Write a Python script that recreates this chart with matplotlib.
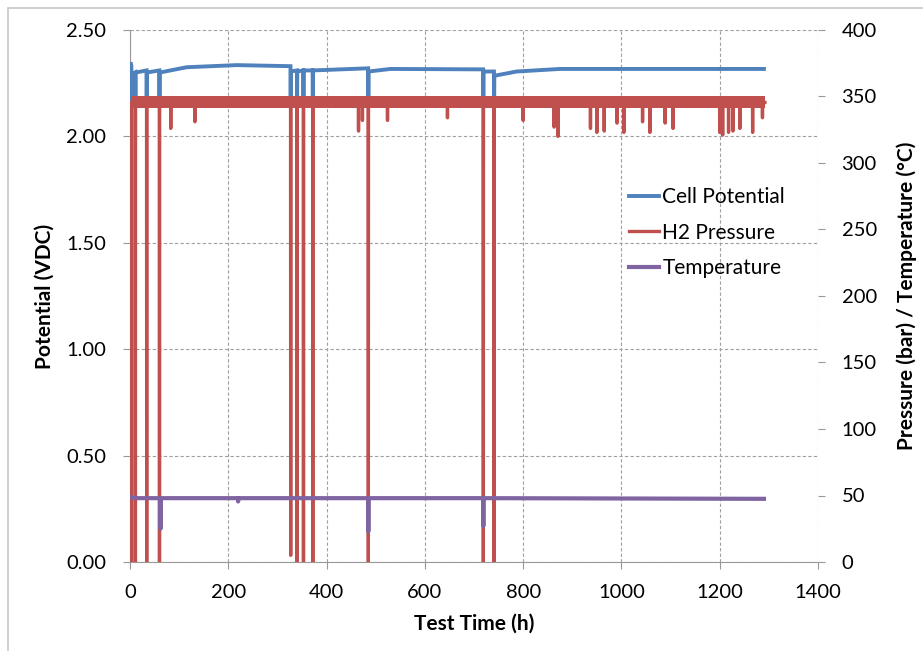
import matplotlib
matplotlib.use("Agg")
import matplotlib.pyplot as plt
from matplotlib.patches import Rectangle
import numpy as np

plt.rcParams['font.family'] = ['Lato', 'DejaVu Sans']

# ---------------- data ----------------
# Cell potential (V), left axis
cell_t = [2, 2.8, 3.0, 3.4, 10.6, 11, 11.4, 33.6, 34, 34.4, 59.6, 60, 60.4,
          115, 217, 326.6, 327, 327.4, 339.6, 340, 340.4, 352.6, 353, 353.4,
          371.6, 372, 372.4, 484.6, 485, 485.4, 530, 718.6, 719, 719.4,
          740.6, 741, 741.4, 787, 875, 1290]
cell_v = [2.34, 2.33, 2.15, 2.29, 2.30, 2.15, 2.30, 2.31, 2.15, 2.30, 2.31, 2.15, 2.30,
          2.325, 2.335, 2.33, 2.15, 2.305, 2.31, 2.15, 2.305, 2.31, 2.15, 2.31,
          2.31, 2.15, 2.31, 2.32, 2.15, 2.305, 2.317, 2.315, 2.15, 2.305,
          2.305, 2.15, 2.285, 2.305, 2.317, 2.317]

# H2 pressure (bar), right axis
press_start, press_end = 2, 1292
press_level = 345.5
press_band_lo, press_band_hi = 341, 350
shutdown_t = [3, 11, 34, 60, 327, 340, 353, 372, 485, 719, 741]
shutdown_p = [0, 0, 0, 0, 5, 0, 0, 0, 0, 0, 0]
spike_t = [83, 132, 465, 473, 524, 646, 800, 863, 871, 937, 950, 965, 991,
           1005, 1043, 1058, 1089, 1105, 1200, 1206, 1218, 1227, 1241, 1267, 1287]
spike_p = [326, 331, 324, 332, 332, 334, 332, 327, 320, 326, 323, 324, 330,
           323, 331, 323, 330, 326, 323, 321, 323, 324, 326, 323, 334]

# Temperature (deg C), right axis
temp_t = [2, 10, 61.6, 62, 62.4, 200, 219.6, 220, 220.4, 484.6, 485, 485.4,
          718.6, 719, 719.4, 1290]
temp_v = [49, 48, 48, 25, 48, 48, 48, 45.5, 48, 48, 23, 48,
          48, 27, 48, 47.5]

# ---------------- figure ----------------
W, H = 923, 651
fig = plt.figure(figsize=(W / 100, H / 100), dpi=100)
fig.patches.append(Rectangle((8 / W, -0.1), 1.2, (H - 8) / H + 0.1,
                             transform=fig.transFigure, fill=False,
                             edgecolor='#c8c8c8', linewidth=1.2))

L, R, T, B = 130, 818, 30, 562
ax = fig.add_axes([L / W, 1 - B / H, (R - L) / W, (B - T) / H])
ax2 = ax.twinx()

blue, red, purple = '#4F81BD', '#C0504D', '#8064A2'

h1, = ax.plot(cell_t, cell_v, color=blue, lw=2.8, solid_joinstyle='miter',
              label='Cell Potential', zorder=3)

# pressure line built from the level, shutdowns and spikes
dips = sorted(zip(shutdown_t + spike_t, shutdown_p + spike_p))
pt, pv = [press_start], [press_level]
for t, p in dips:
    pt += [t - 0.3, t, t + 0.3]
    pv += [press_level, p, press_level]
pt.append(press_end)
pv.append(press_level)

ax2.fill_between([press_start, press_end], [press_band_lo] * 2, [press_band_hi] * 2,
                 color=red, lw=0, zorder=2)
h2, = ax2.plot(pt, pv, color=red, lw=2.4, label='H2 Pressure', zorder=3)
h3, = ax2.plot(temp_t, temp_v, color=purple, lw=3.0, label='Temperature', zorder=4)

# axes styling
ax.set_xlim(0, 1400)
ax.set_ylim(0, 2.5)
ax2.set_ylim(0, 400)
ax.set_xticks(np.arange(0, 1401, 200))
ax.set_yticks(np.arange(0, 2.51, 0.5))
ax.set_yticklabels([f'{v:.2f}' for v in np.arange(0, 2.51, 0.5)])
ax2.set_yticks(np.arange(0, 401, 50))

gridc = '#a0a0a0'
ax.grid(True, color=gridc, linestyle=(0, (3, 2)), linewidth=0.8)
ax.set_axisbelow(True)

for a in (ax, ax2):
    a.spines['top'].set_visible(False)
    a.spines['right'].set_visible(False)
    a.patch.set_visible(False)
ax.spines['left'].set_color('#999999')
ax.spines['bottom'].set_color('#999999')
ax2.spines['left'].set_visible(False)
ax2.spines['bottom'].set_visible(False)

ax.tick_params(axis='y', direction='out', length=5, width=0.8, color='#999999',
               labelsize=14.5, pad=12, labelcolor='black')
ax.tick_params(axis='x', direction='out', length=5, width=0.8, color='#999999',
               labelsize=14.5, pad=11, labelcolor='black')
ax2.tick_params(axis='y', direction='out', length=5, width=0.8, color='#999999',
                labelsize=14.5, pad=12, labelcolor='black')

ax.set_xlabel('Test Time (h)', fontsize=15, fontweight='bold')
ax.set_ylabel('Potential (VDC)', fontsize=15, fontweight='bold')
ax2.set_ylabel('Pressure (bar) / Temperature (°C)', fontsize=15, fontweight='bold')
ax.xaxis.set_label_coords(0.5, (B - 614) / (B - T))
ax.yaxis.set_label_coords((55 - L) / (R - L), 0.5)
ax2.yaxis.set_label_coords((896 - L) / (R - L), 0.5)

ax2.legend(handles=[h1, h2, h3], loc='upper left',
           bbox_to_anchor=((629 - L) / (R - L), (B - 187) / (B - T)),
           frameon=False, fontsize=15, labelspacing=0.75, handlelength=1.45,
           handletextpad=0.15, borderaxespad=0, borderpad=0)

fig.savefig('out.png', dpi=100)
